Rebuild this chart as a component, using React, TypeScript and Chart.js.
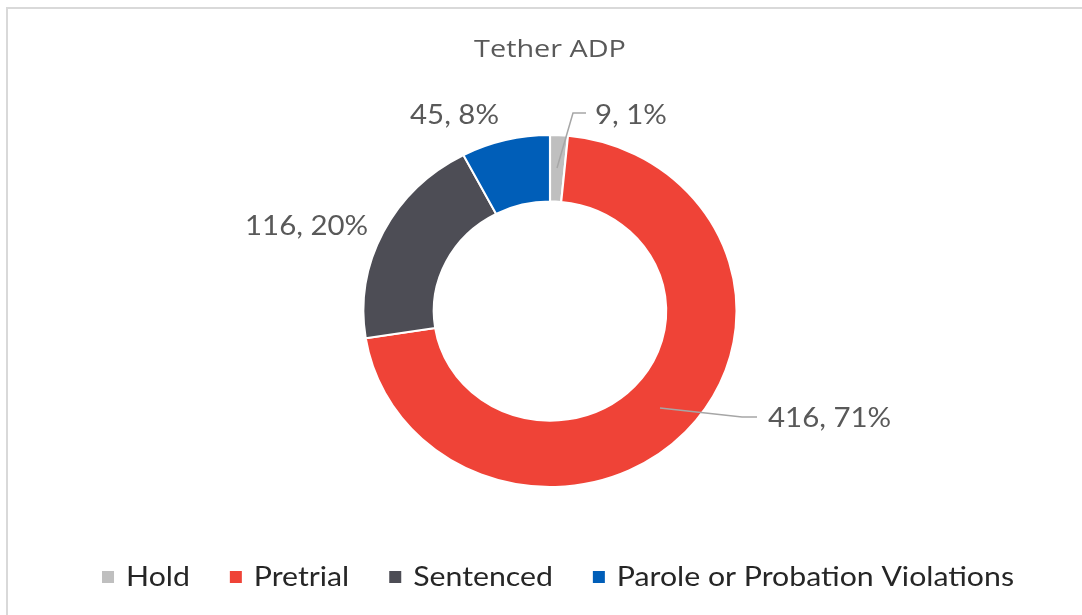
import React, { useEffect, useRef } from "react";
import { Chart, registerables } from "chart.js";

Chart.register(...registerables);

const chartTitle = "Tether ADP";
const categories = ["Hold", "Pretrial", "Sentenced", "Parole or Probation Violations"];
const values = [9, 416, 116, 45];
const percentLabels = [1, 71, 20, 8];
const colors = ["#bfbfbf", "#ef4337", "#4d4d55", "#005eb8"];

const W = 1082;
const H = 615;
const CX = 550;
const STRETCH = 1.06;
const TEXT = "#595959";
const LEADER = "#a6a6a6";

// label anchor (left x, center y) and leader polylines, layout only
const labelPos = [
  { x: 595, y: 115 },
  { x: 768, y: 418 },
  { x: 245, y: 226 },
  { x: 410, y: 115 },
];
const leaders: Record<number, number[][]> = {
  0: [[557, 168], [573, 113], [586, 113]],
  1: [[660, 408], [742, 417], [757, 417]],
};

function drawScaled(ctx: CanvasRenderingContext2D, text: string, x: number, y: number, sx: number, align: "left" | "center") {
  const w = ctx.measureText(text).width * sx;
  const left = align === "center" ? x - w / 2 : x;
  ctx.save();
  ctx.textAlign = "left";
  ctx.translate(left, y);
  ctx.scale(sx, 1);
  ctx.fillText(text, 0, 0);
  ctx.restore();
}

export default function App() {
  const ref = useRef<HTMLCanvasElement | null>(null);

  useEffect(() => {
    const canvas = ref.current;
    if (!canvas) return;

    const bgPlugin = {
      id: "bgFrame",
      beforeDraw(chart: any) {
        const ctx = chart.ctx;
        ctx.save();
        ctx.fillStyle = "#ffffff";
        ctx.fillRect(0, 0, W, H);
        ctx.strokeStyle = "#d9d9d9";
        ctx.lineWidth = 2;
        ctx.strokeRect(7, 8, W + 40, H + 40);
        ctx.restore();
      },
    };

    const stretchPlugin = {
      id: "stretch",
      beforeDatasetsDraw(chart: any) {
        const ctx = chart.ctx;
        ctx.save();
        ctx.translate(CX, 0);
        ctx.scale(STRETCH, 1);
        ctx.translate(-CX, 0);
      },
      afterDatasetsDraw(chart: any) {
        chart.ctx.restore();
      },
    };

    const textPlugin = {
      id: "texts",
      afterDraw(chart: any) {
        const ctx = chart.ctx;
        ctx.save();
        ctx.textBaseline = "middle";
        // title
        ctx.fillStyle = TEXT;
        ctx.font = "24px 'Open Sans'";
        drawScaled(ctx, chartTitle, CX, 50, 1.2, "center");

        // leader lines
        ctx.strokeStyle = LEADER;
        ctx.lineWidth = 1.5;
        Object.keys(leaders).forEach((k) => {
          const pts = leaders[Number(k)];
          ctx.beginPath();
          pts.forEach((p, i) => (i === 0 ? ctx.moveTo(p[0], p[1]) : ctx.lineTo(p[0], p[1])));
          ctx.stroke();
        });

        // data labels
        ctx.font = "27px Lato";
        ctx.fillStyle = TEXT;
        values.forEach((v, i) => {
          const p = labelPos[i];
          drawScaled(ctx, `${v}, ${percentLabels[i]}%`, p.x, p.y, 1.09, "left");
        });

        // legend
        ctx.font = "27px Lato";
        const sx = 1.12;
        const sq = 12;
        const gapIn = 12;
        const gapOut = 40;
        const widths = categories.map((c) => ctx.measureText(c).width * sx);
        const total = widths.reduce((a, w) => a + sq + gapIn + w, 0) + gapOut * (categories.length - 1);
        let x = 558 - total / 2;
        const ly = 577;
        categories.forEach((c, i) => {
          ctx.fillStyle = colors[i];
          ctx.fillRect(x, ly - sq / 2, sq, sq);
          x += sq + gapIn;
          ctx.fillStyle = "#262626";
          drawScaled(ctx, c, x, ly, sx, "left");
          x += widths[i] + gapOut;
        });
        ctx.restore();
      },
    };

    const chart = new Chart(canvas, {
      type: "doughnut",
      data: {
        labels: categories,
        datasets: [
          {
            data: values,
            backgroundColor: colors,
            borderColor: "#ffffff",
            borderWidth: 2,
            radius: 176,
            cutout: 109,
          } as any,
        ],
      },
      options: {
        responsive: false,
        animation: false,
        devicePixelRatio: 1,
        layout: { padding: { left: 374, right: W - 726, top: 135, bottom: H - 487 } },
        plugins: {
          legend: { display: false },
          title: { display: false },
          tooltip: { enabled: false },
        },
      },
      plugins: [bgPlugin, stretchPlugin, textPlugin],
    });
    return () => chart.destroy();
  }, []);

  return (
    <div style={{ position: "absolute", left: 0, top: 0, width: W, height: H }}>
      <canvas ref={ref} width={W} height={H} style={{ display: "block" }} />
    </div>
  );
}
